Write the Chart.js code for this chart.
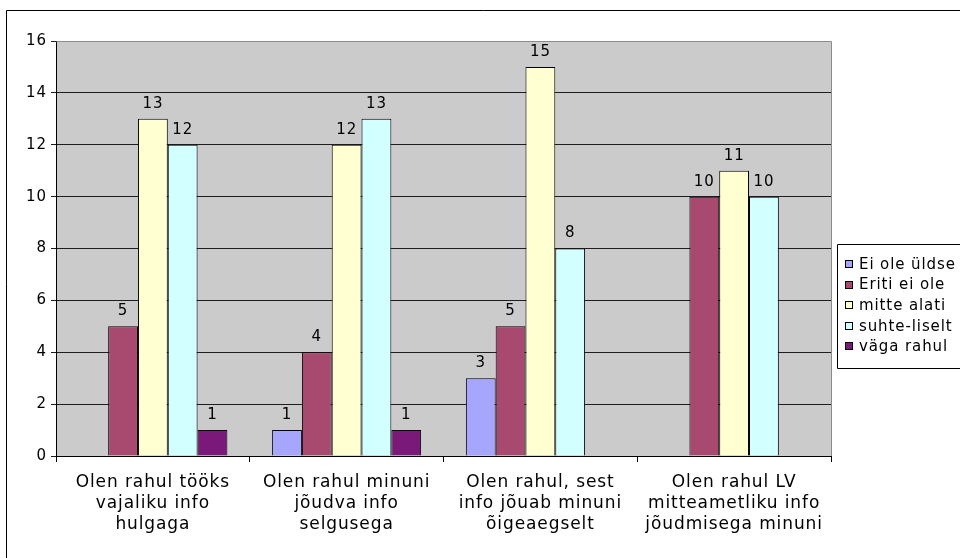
<!DOCTYPE html>
<html>
<head>
<meta charset="utf-8">
<script src="https://cdn.jsdelivr.net/npm/chart.js@4/dist/chart.umd.min.js"></script>
<style>
  html, body { margin: 0; padding: 0; background: #ffffff; }
  #wrap { width: 960px; height: 558px; }
</style>
</head>
<body>
<div id="wrap"><canvas id="c" width="960" height="558"></canvas></div>
<script>
// Survey question categories (x axis, wrapped onto three lines)
const categories = [
  ["Olen rahul tööks", "vajaliku info", "hulgaga"],
  ["Olen rahul minuni", "jõudva info", "selgusega"],
  ["Olen rahul, sest", "info jõuab minuni", "õigeaegselt"],
  ["Olen rahul LV", "mitteametliku info", "jõudmisega minuni"]
];

// Answer counts per response option (null = no answers, no bar drawn)
const eiOleUldse   = [null, 1, 3, null];
const eritiEiOle   = [5, 4, 5, 10];
const mitteAlati   = [13, 12, 15, 11];
const suhteliselt  = [12, 13, 8, 10];
const vagaRahul    = [1, 1, null, null];

const seriesNames  = ["Ei ole üldse", "Eriti ei ole", "mitte alati", "suhte-liselt", "väga rahul"];
const seriesColors = ["#A6A6FF", "#A8496F", "#FFFFD2", "#D2FFFF", "#7B197B"];

// Value axis tick values
const yTicks = [0, 2, 4, 6, 8, 10, 12, 14, 16];

const FONT = "'DejaVu Sans', Verdana, sans-serif";
const TRACKING = "0.9px";

const seriesData = [eiOleUldse, eritiEiOle, mitteAlati, suhteliselt, vagaRahul];
const datasets = seriesData.map((d, i) => ({
  label: seriesNames[i],
  data: d,
  backgroundColor: seriesColors[i],
  borderColor: "#000000",
  borderWidth: 1,
  categoryPercentage: 5 / 6.5,
  barPercentage: 1.0
}));

// Wider letter spacing for all chart text
const tracking = {
  id: "tracking",
  beforeLayout(chart) { chart.ctx.letterSpacing = TRACKING; },
  beforeDraw(chart) { chart.ctx.letterSpacing = TRACKING; }
};

// Frame, plot background and plot outline
const framePlugin = {
  id: "frame",
  beforeDraw(chart) {
    const { ctx, chartArea: a } = chart;
    ctx.save();
    ctx.fillStyle = "#CBCBCB";
    ctx.fillRect(a.left, a.top, a.right - a.left, a.bottom - a.top);
    ctx.strokeStyle = "#000000";
    ctx.lineWidth = 1;
    ctx.beginPath();
    ctx.moveTo(6.5, 558);
    ctx.lineTo(6.5, 10.5);
    ctx.lineTo(960, 10.5);
    ctx.stroke();
    ctx.restore();
  },
  afterDatasetsDraw(chart) {
    const { ctx, chartArea: a } = chart;
    ctx.save();
    ctx.strokeStyle = "#8C8C8C";
    ctx.lineWidth = 1;
    ctx.beginPath();
    ctx.moveTo(Math.round(a.left) + 0.5, Math.round(a.top) + 0.5);
    ctx.lineTo(Math.round(a.right) + 0.5, Math.round(a.top) + 0.5);
    ctx.lineTo(Math.round(a.right) + 0.5, Math.round(a.bottom));
    ctx.stroke();
    ctx.restore();
  }
};

// Value labels above each bar
const valueLabels = {
  id: "valueLabels",
  afterDatasetsDraw(chart) {
    const { ctx } = chart;
    ctx.save();
    ctx.font = "15px " + FONT;
    ctx.fillStyle = "#000000";
    ctx.textAlign = "center";
    ctx.textBaseline = "middle";
    chart.data.datasets.forEach((ds, di) => {
      const meta = chart.getDatasetMeta(di);
      meta.data.forEach((bar, i) => {
        const v = ds.data[i];
        if (v === null || v === undefined) return;
        ctx.fillText(String(v), bar.x, bar.y - 15);
      });
    });
    ctx.restore();
  }
};

// Boxed legend on the right
const boxLegend = {
  id: "boxLegend",
  afterDraw(chart) {
    const { ctx } = chart;
    const x0 = 837, y0 = 244, h = 124, rowH = 20.6;
    ctx.save();
    ctx.fillStyle = "#FFFFFF";
    ctx.fillRect(x0, y0, 960 - x0, h);
    ctx.strokeStyle = "#000000";
    ctx.lineWidth = 1;
    ctx.beginPath();
    ctx.moveTo(960, y0 + 0.5);
    ctx.lineTo(x0 + 0.5, y0 + 0.5);
    ctx.lineTo(x0 + 0.5, y0 + h + 0.5);
    ctx.lineTo(960, y0 + h + 0.5);
    ctx.stroke();
    ctx.font = "15px " + FONT;
    ctx.textBaseline = "middle";
    ctx.textAlign = "left";
    chart.data.datasets.forEach((ds, i) => {
      const cy = y0 + 20 + i * rowH;
      ctx.fillStyle = ds.backgroundColor;
      ctx.fillRect(845.5, Math.round(cy) - 3.5, 7, 7);
      ctx.strokeStyle = "#000000";
      ctx.strokeRect(845.5, Math.round(cy) - 3.5, 7, 7);
      ctx.fillStyle = "#000000";
      ctx.fillText(ds.label, 859, cy + 1);
    });
    ctx.restore();
  }
};

new Chart(document.getElementById("c"), {
  type: "bar",
  data: { labels: categories, datasets },
  options: {
    responsive: false,
    animation: false,
    devicePixelRatio: 1,
    layout: { padding: { left: 0, right: 129, top: 41, bottom: 0 } },
    plugins: {
      legend: { display: false },
      tooltip: { enabled: false },
      title: { display: false }
    },
    scales: {
      x: {
        offset: true,
        grid: {
          offset: true,
          drawOnChartArea: false,
          drawTicks: true,
          tickLength: 6,
          color: "#000000"
        },
        border: { display: true, color: "#000000", width: 1 },
        ticks: {
          color: "#000000",
          font: { family: FONT, size: 17, lineHeight: 1.24 },
          maxRotation: 0,
          autoSkip: false,
          padding: 10
        },
        afterFit(scale) { scale.height = 102; }
      },
      y: {
        min: 0,
        max: 16,
        afterBuildTicks(scale) { scale.ticks = yTicks.map(v => ({ value: v })); },
        grid: {
          color: "#1E1E1E",
          lineWidth: 1,
          drawTicks: true,
          tickLength: 5
        },
        border: { display: true, color: "#000000", width: 1 },
        ticks: {
          color: "#000000",
          font: { family: FONT, size: 15 },
          padding: 4
        },
        afterFit(scale) { scale.width = 56; }
      }
    }
  },
  plugins: [tracking, framePlugin, valueLabels, boxLegend]
});
</script>
</body>
</html>
